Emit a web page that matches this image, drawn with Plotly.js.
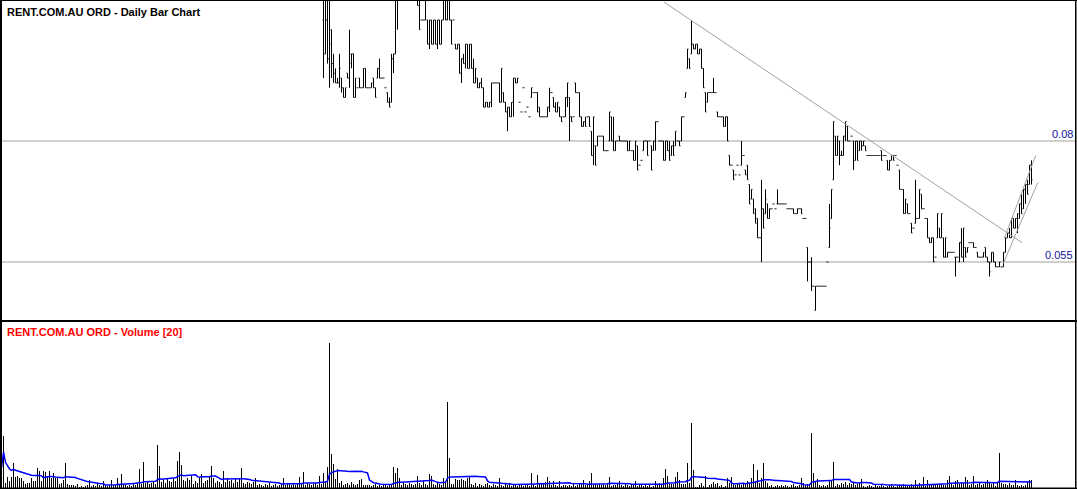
<!DOCTYPE html>
<html>
<head>
<meta charset="utf-8">
<script src="https://cdn.plot.ly/plotly-3.0.1.min.js"></script>
<style>html,body{margin:0;padding:0;background:#fff;}#chart{width:1077px;height:489px;}</style>
</head>
<body>
<div id="chart"></div>
<script>
// ---- DATA ----
// daily volume (thousand shares), one value per trading day, oldest first
const volume = [
400,1040,100,220,140,220,500,220,240,200,
200,140,80,100,100,200,140,140,400,340,
140,340,320,240,340,200,300,200,200,80,
100,160,500,80,60,60,60,40,80,20,
40,20,40,60,160,40,60,40,80,60,
40,140,60,40,60,160,60,60,200,80,
280,80,60,40,60,40,80,60,100,380,
80,520,100,120,80,100,120,80,860,440,
120,160,100,200,140,120,180,140,540,720,
460,160,140,200,160,240,80,140,100,200,
280,100,140,160,220,440,200,100,140,120,
80,340,120,200,140,160,100,180,120,200,
400,100,80,120,100,80,120,200,60,80,
60,40,80,60,100,40,60,80,40,60,
80,200,60,80,100,60,80,60,100,220,
80,320,60,100,80,60,80,100,60,240,
80,300,140,420,2900,680,480,180,380,100,
140,60,80,100,60,120,80,60,80,160,
180,60,60,60,60,40,60,80,40,60,
40,60,80,40,60,80,420,300,400,200,
60,100,80,60,100,80,60,80,240,100,
60,140,80,60,280,240,80,60,100,80,
60,200,120,1720,600,80,80,180,160,160,
180,160,140,200,240,80,60,100,40,80,
60,40,80,100,60,40,80,60,40,200,
60,40,80,60,100,40,80,60,40,80,
60,40,80,60,40,300,60,40,260,80,
100,80,120,220,140,60,140,60,40,140,
40,60,60,40,60,40,80,40,60,100,
80,160,60,60,140,300,60,80,60,80,
60,80,60,80,220,40,60,60,80,140,
60,40,80,60,40,80,60,140,40,60,
80,40,60,40,60,20,40,140,60,100,
60,200,380,240,80,80,80,220,320,160,
80,80,80,500,100,1300,360,20,20,60,
100,40,240,20,60,80,120,80,100,40,
60,20,40,200,100,220,80,60,100,80,
60,100,80,140,100,200,480,140,360,100,
200,500,140,100,40,60,20,40,60,40,
60,40,60,40,20,60,80,40,40,60,
200,100,60,80,60,1100,300,140,180,60,
40,60,40,60,140,140,520,40,80,60,
100,80,120,60,100,80,120,60,80,100,
180,40,20,40,60,40,20,60,40,40,
60,40,20,40,60,80,40,20,40,60,
40,80,60,40,60,80,60,160,60,100,
60,220,40,160,60,60,80,60,60,60,
80,60,60,160,240,80,60,140,160,80,
120,100,220,160,60,80,240,60,80,100,
60,80,100,160,100,80,100,40,100,700,
100,80,80,60,100,60,60,160,60,40,
60,40,60,140,160,160
];

// first visible price bar = trading day number 161 (earlier days sit above the visible price range)
const priceStartDay = 161;
const open = [
.105,.098,.105,.097,.103,.096,.094,.092,.092,.093,
.091,.089,.094,.093,.096,.098,.089,.091,.093,.091,
.091,.095,.091,.091,.091,.093,.091,.093,.095,.093,
.093,.091,.090,.088,.088,.097,.098,.110,
null,null,null,null,null,null,null,null,null,
.110,.108,.105,
.105,.105,.105,.100,.105,.100,.105,.100,.105,.100,
.105,.110,.105,.110,.105,.105,.100,.099,.100,.094,
.097,.096,.100,.095,.100,.095,.092,.093,.091,.092,
.091,.087,.088,.087,.088,.092,.092,.092,.092,.088,
.090,.088,.086,.087,.085,.088,.093,.092,.088,.086,
.091,.086,.087,.085,.089,.090,.090,.090,.087,.085,
.085,.085,.085,.087,.090,.089,.087,.086,.087,.085,
.085,.085,.089,.089,.085,.085,.092,.090,.090,.085,
.083,.084,.085,.085,.082,.077,.079,.079,.081,.081,
.081,.078,.078,.080,.085,.080,.078,.080,.081,.080,
.080,.080,.080,.078,.078,.078,.076,.079,.075,.076,
.078,.080,.080,.080,.079,.078,.080,.084,.080,.080,
.080,.076,.080,.078,.077,.079,.079,.080,.080,.080,
.085,.089,.095,.097,.098,.100,.099,.100,.098,.099,
.095,.090,.088,.090,.090,.090,.090,.086,.085,.085,
.085,.083,.085,.077,.075,.074,.073,.075,.073,.075,
.077,.074,.075,.071,.068,.068,.066,.064,.060,.060,
.066,.065,.067,.064,.066,.067,.066,.067,.067,.067,
.067,.067,.066,.066,.066,.066,.065,.065,.066,.066,
.064,.064,.058,.055,.055,.050,.045,.050,.050,.050,
.050,.050,.055,.058,.064,.072,.081,.077,.080,.077,
.077,.081,.083,.080,.081,.080,.076,.080,.078,.080,
.079,.079,.077,.077,.077,.077,.077,.077,.077,.078,
.077,.077,.076,.074,.076,.077,.077,.075,.074,.070,
.070,.065,.067,.065,.063,.062,.063,.064,.064,.069,
.066,.064,.064,.060,.059,.060,.056,.060,.062,.060,
.060,.056,.056,.057,.057,.057,.056,.056,.055,.059,
.056,.058,.057,.059,.059,.059,.058,.057,.056,.056,
.056,.058,.056,.055,.055,.057,.055,.054,.054,.054,
.054,.057,.060,.061,.060,.064,.062,.064,.064,.067,
.066,.070,.071,.071,.075
];
const high = [
.110,.110,.110,.110,.103,.098,.095,.093,.098,.093,
.091,.091,.094,.103,.098,.098,.093,.091,.093,.091,
.095,.095,.091,.091,.092,.093,.091,.095,.097,.093,
.093,.091,.090,.089,.098,.098,.110,.110,
null,null,null,null,null,null,null,null,null,
.110,.110,.105,
.105,.110,.105,.105,.105,.105,.105,.105,.105,.105,
.110,.110,.110,.110,.105,.105,.100,.100,.100,.097,
.098,.100,.100,.100,.100,.097,.095,.093,.092,.093,
.091,.088,.088,.088,.092,.092,.092,.092,.092,.095,
.090,.088,.087,.087,.088,.093,.093,.093,.088,.086,
.091,.086,.087,.085,.091,.090,.090,.090,.087,.085,
.085,.085,.087,.091,.090,.089,.088,.088,.087,.085,
.085,.089,.092,.089,.085,.085,.092,.090,.090,.085,
.084,.085,.085,.085,.082,.085,.079,.081,.081,.081,
.081,.078,.078,.086,.085,.085,.080,.080,.081,.080,
.080,.080,.080,.080,.078,.078,.080,.079,.075,.076,
.080,.080,.080,.080,.079,.080,.084,.084,.080,.080,
.080,.080,.080,.080,.079,.080,.082,.080,.080,.085,
.085,.090,.099,.097,.105,.100,.100,.100,.099,.099,
.095,.090,.090,.090,.090,.093,.090,.086,.085,.085,
.085,.085,.085,.077,.075,.074,.073,.075,.073,.080,
.077,.074,.075,.071,.070,.068,.066,.064,.060,.072,
.066,.070,.067,.066,.066,.067,.066,.070,.067,.067,
.067,.067,.066,.066,.066,.066,.065,.066,.066,.066,
.064,.064,.058,.055,.056,.050,.050,.050,.050,.050,
.050,.050,.055,.067,.070,.084,.081,.081,.080,.078,
.081,.084,.083,.080,.081,.080,.080,.080,.080,.080,
.080,.079,.077,.077,.077,.077,.077,.077,.077,.078,
.077,.077,.076,.076,.077,.077,.077,.075,.074,.070,
.070,.068,.067,.065,.063,.062,.072,.064,.070,.069,
.066,.064,.064,.060,.060,.060,.056,.065,.062,.065,
.060,.060,.057,.057,.057,.057,.056,.056,.059,.062,
.062,.058,.058,.059,.059,.059,.058,.057,.056,.056,
.057,.058,.056,.055,.057,.057,.055,.054,.055,.054,
.057,.060,.061,.062,.064,.064,.064,.065,.067,.069,
.070,.071,.072,.075,.076
];
const low = [
.093,.098,.096,.091,.093,.092,.092,.092,.091,.090,
.089,.089,.093,.091,.095,.089,.089,.091,.091,.091,
.091,.091,.091,.091,.091,.091,.089,.093,.093,.093,
.093,.091,.088,.087,.088,.094,.098,.103,
null,null,null,null,null,null,null,null,null,
.108,.103,.105,
.105,.105,.100,.099,.100,.100,.100,.099,.100,.100,
.105,.105,.105,.105,.100,.105,.099,.099,.094,.092,
.096,.095,.095,.095,.095,.092,.092,.091,.091,.091,
.087,.087,.087,.087,.087,.092,.092,.092,.088,.088,
.088,.086,.082,.085,.085,.085,.092,.092,.088,.086,
.091,.086,.087,.085,.089,.090,.090,.086,.085,.085,
.085,.085,.085,.086,.090,.087,.086,.086,.085,.084,
.085,.085,.087,.080,.084,.085,.090,.090,.085,.083,
.083,.083,.085,.083,.077,.075,.075,.079,.081,.081,
.078,.078,.078,.080,.080,.078,.078,.080,.080,.080,
.080,.080,.078,.078,.078,.076,.076,.074,.075,.076,
.078,.080,.077,.080,.074,.078,.078,.084,.080,.080,
.076,.076,.078,.076,.077,.077,.079,.080,.079,.080,
.085,.089,.095,.095,.098,.099,.099,.098,.098,.095,
.091,.086,.088,.090,.090,.090,.090,.085,.085,.085,
.083,.083,.080,.075,.075,.072,.073,.075,.073,.075,
.077,.073,.072,.067,.068,.065,.063,.060,.060,.055,
.062,.065,.064,.064,.066,.067,.066,.067,.067,.067,
.067,.067,.066,.066,.066,.065,.065,.065,.066,.065,
.064,.064,.051,.055,.049,.050,.045,.050,.050,.050,
.050,.050,.055,.058,.064,.072,.077,.077,.075,.077,
.077,.080,.080,.080,.081,.074,.076,.076,.078,.078,
.079,.078,.077,.077,.077,.077,.077,.077,.077,.076,
.077,.077,.074,.074,.076,.076,.077,.075,.070,.070,
.065,.065,.065,.065,.061,.062,.063,.064,.064,.066,
.066,.064,.060,.059,.059,.055,.056,.060,.060,.060,
.056,.056,.056,.057,.057,.057,.052,.056,.055,.056,
.055,.056,.057,.059,.059,.058,.058,.056,.056,.056,
.056,.056,.055,.052,.055,.055,.054,.054,.054,.054,
.054,.057,.060,.060,.060,.062,.062,.061,.064,.065,
.066,.067,.069,.071,.071
];
const close = [
.098,.105,.097,.100,.096,.094,.092,.092,.095,.091,
.089,.091,.093,.098,.098,.089,.093,.091,.091,.091,
.095,.091,.091,.091,.092,.091,.089,.095,.093,.093,
.093,.091,.088,.087,.097,.098,.110,.110,
null,null,null,null,null,null,null,null,null,
.108,.103,.105,
.105,.110,.100,.105,.100,.105,.100,.105,.100,.105,
.110,.105,.110,.105,.100,.105,.099,.100,.094,.097,
.096,.100,.095,.100,.095,.092,.095,.091,.092,.091,
.087,.088,.087,.088,.092,.092,.092,.092,.088,.095,
.088,.086,.087,.085,.088,.093,.092,.093,.088,.086,
.091,.086,.087,.085,.091,.090,.090,.086,.085,.085,
.085,.085,.087,.090,.090,.087,.086,.088,.085,.084,
.085,.089,.092,.085,.084,.085,.090,.090,.085,.083,
.084,.083,.085,.083,.077,.085,.075,.081,.081,.081,
.078,.078,.078,.086,.080,.078,.080,.080,.080,.080,
.080,.080,.078,.080,.078,.076,.080,.074,.075,.076,
.080,.080,.077,.080,.074,.080,.084,.084,.080,.080,
.076,.080,.078,.076,.079,.077,.082,.080,.079,.085,
.085,.090,.099,.095,.100,.099,.100,.098,.099,.095,
.091,.086,.090,.090,.090,.090,.090,.085,.085,.085,
.083,.085,.080,.075,.075,.072,.073,.075,.073,.077,
.077,.073,.072,.067,.070,.065,.063,.060,.060,.066,
.062,.068,.064,.066,.066,.067,.066,.067,.067,.067,
.067,.067,.066,.066,.066,.065,.065,.066,.066,.065,
.064,.064,.055,.055,.050,.050,.050,.050,.050,.050,
.050,.050,.055,.062,.070,.084,.077,.081,.077,.077,
.081,.084,.080,.080,.081,.076,.080,.076,.080,.079,
.080,.078,.077,.077,.077,.077,.077,.077,.077,.076,
.077,.077,.074,.076,.077,.076,.077,.075,.070,.070,
.065,.068,.065,.065,.061,.062,.064,.064,.070,.066,
.066,.064,.060,.059,.060,.055,.056,.065,.060,.065,
.056,.060,.057,.057,.057,.057,.056,.056,.059,.056,
.062,.056,.058,.059,.059,.058,.058,.056,.056,.056,
.057,.056,.055,.053,.057,.055,.054,.054,.055,.054,
.057,.060,.061,.060,.064,.062,.064,.065,.067,.065,
.070,.071,.069,.075,.072
];

// horizontal reference levels shown on the price panel
const levels = [0.08, 0.055];
const levelLabels = ['0.08', '0.055'];
const maPeriod = 20;

// ---- BUILD ----
const W = 1077, H = 489;
const volDays = volume.map((v, i) => i);
const priceDays = open.map((v, i) => priceStartDay + i);

const ma = volume.map((v, i) => {
  const s = Math.max(0, i - maPeriod + 1);
  let sum = 0;
  for (let k = s; k <= i; k++) sum += volume[k];
  return sum / (i - s + 1);
});

const px = p => p / W;
const py = p => 1 - p / H;

const traces = [
  {
    type: 'ohlc', x: priceDays, open: open, high: high, low: low, close: close,
    xaxis: 'x', yaxis: 'y',
    increasing: {line: {color: '#000', width: 1}},
    decreasing: {line: {color: '#000', width: 1}},
    tickwidth: 0.5, hoverinfo: 'skip', showlegend: false
  },
  {
    type: 'bar', x: volDays, y: volume, xaxis: 'x', yaxis: 'y2',
    width: 0.5, marker: {color: '#000', line: {width: 0}},
    hoverinfo: 'skip', showlegend: false
  },
  {
    type: 'scatter', mode: 'lines', x: volDays, y: ma, xaxis: 'x', yaxis: 'y2',
    line: {color: '#0000ff', width: 1.5}, hoverinfo: 'skip', showlegend: false
  }
];

const gray = '#a0a0a0';
const shapes = [];
levels.forEach(l => shapes.push({type: 'line', xref: 'paper', yref: 'y', x0: 0, x1: 1, y0: l, y1: l,
  line: {color: gray, width: 1}, layer: 'below'}));
// trend lines
shapes.push({type: 'line', xref: 'x', yref: 'y', x0: 331.25, y0: 0.1087, x1: 510.25, y1: 0.0590, line: {color: gray, width: 1}});
shapes.push({type: 'line', xref: 'x', yref: 'y', x0: 501.4, y0: 0.0599, x1: 517.1, y1: 0.0770, line: {color: gray, width: 1}});
shapes.push({type: 'line', xref: 'x', yref: 'y', x0: 500.9, y0: 0.0547, x1: 518.1, y1: 0.0714, line: {color: gray, width: 1}});
// frame
const frame = (x0, y0, x1, y1, w) => shapes.push({type: 'line', xref: 'paper', yref: 'paper',
  x0: px(x0), y0: py(y0), x1: px(x1), y1: py(y1), line: {color: '#000', width: w}});
frame(0, 0.5, W, 0.5, 1);
frame(1, 0, 1, H, 2);
frame(1075.75, 0, 1075.75, H, 1.5);
frame(0, 321, W, 321, 2);
frame(0, 488.25, W, 488.25, 1.5);

const annotations = [
  {text: '<b>RENT.COM.AU ORD - Daily Bar Chart</b>', xref: 'paper', yref: 'paper', x: px(5), y: py(12),
   xanchor: 'left', yanchor: 'middle', showarrow: false, font: {family: 'Liberation Sans, Arial, sans-serif', size: 11, color: '#000'}},
  {text: '<b>RENT.COM.AU ORD - Volume [20]</b>', xref: 'paper', yref: 'paper', x: px(5), y: py(332),
   xanchor: 'left', yanchor: 'middle', showarrow: false, font: {family: 'Liberation Sans, Arial, sans-serif', size: 11, color: '#ff0000'}}
];
levels.forEach((l, i) => annotations.push({text: levelLabels[i], xref: 'paper', yref: 'y', x: px(1075), y: l,
  xanchor: 'right', yanchor: 'bottom', yshift: -1, showarrow: false,
  font: {family: 'Liberation Sans, Arial, sans-serif', size: 11, color: '#10109c'}}));

const layout = {
  width: W, height: H,
  margin: {l: 0, r: 0, t: 0, b: 0, pad: 0},
  paper_bgcolor: '#fff', plot_bgcolor: '#fff',
  showlegend: false,
  xaxis: {range: [-0.75, 537.75], visible: false, showgrid: false, zeroline: false, rangeslider: {visible: false}, fixedrange: true},
  yaxis: {domain: [1 - 321 / H, 1], range: [0.04281, 0.10913], visible: false, showgrid: false, zeroline: false, fixedrange: true},
  yaxis2: {domain: [0, 1 - 322 / H], range: [-20, 3320], anchor: 'x', visible: false, showgrid: false, zeroline: false, fixedrange: true},
  shapes: shapes,
  annotations: annotations
};

Plotly.newPlot('chart', traces, layout, {displayModeBar: false, staticPlot: true});
</script>
</body>
</html>
